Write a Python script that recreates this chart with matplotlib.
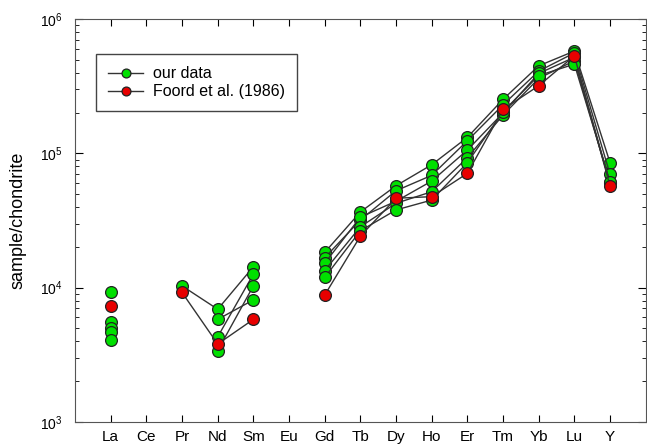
import numpy as np
import matplotlib
matplotlib.use("Agg")
import matplotlib.pyplot as plt

# element order along the x axis
elements = ["La", "Ce", "Pr", "Nd", "Sm", "Eu", "Gd", "Tb", "Dy", "Ho", "Er", "Tm", "Yb", "Lu", "Y"]
nan = np.nan

ours_1 = [9200, nan, 10300, 6900, 14300, nan, 18300, 36600, 57400, 82300, 131600, 252600, 449000, 578000, 85200]
ours_2 = [5500, nan, nan, 5800, 8100, nan, 16700, 31900, 52700, 68600, 124200, 230000, 410000, 560000, 69800]
ours_3 = [5000, nan, nan, 4300, 12600, nan, 15200, 33500, 44000, 62200, 105900, 200000, 394000, 520000, 60000]
ours_4 = [4700, nan, nan, 3400, 10300, nan, 13400, 28400, 42500, 51800, 92800, 193000, 362000, 490000, 59800]
ours_5 = [4100, nan, nan, nan, nan, nan, 11900, 26500, 37900, 44900, 85200, 205000, 380000, 462000, 61000]
foord = [7300, nan, 9200, 3800, 5800, nan, 8800, 24200, 46300, 47600, 71000, 212700, 319000, 533000, 57100]

plt.rcParams['font.family'] = ['Liberation Sans', 'DejaVu Sans']

fig = plt.figure(figsize=(6.47, 4.45), dpi=100)
ax = fig.add_axes([0.116, 0.052, 0.882, 0.905])

x = np.arange(1, len(elements) + 1)
style = dict(color="#333333", lw=1.0, marker="o", markersize=8.5,
             markeredgecolor="#222222", markeredgewidth=0.9)

for i, s in enumerate([ours_1, ours_2, ours_3, ours_4, ours_5]):
    ax.plot(x, s, markerfacecolor="#00e000", label="our data" if i == 0 else None, **style)
ax.plot(x, foord, markerfacecolor="#e80000", label="Foord et al. (1986)", **style)

ax.set_yscale("log")
ax.set_ylim(1e3, 1e6)
ax.set_xlim(0, len(elements) + 1)
ax.set_xticks(x)
ax.set_xticklabels(elements, fontsize=11)
ax.set_ylabel("sample/chondrite", fontsize=13, labelpad=10)

ax.tick_params(axis="both", which="both", direction="in", top=True, right=True)
ax.tick_params(axis="x", length=5, pad=6)
ax.tick_params(axis="y", which="major", length=6, labelsize=10, pad=9)
ax.tick_params(axis="y", which="minor", length=3)
for sp in ax.spines.values():
    sp.set_color("#555555")

leg = ax.legend(loc="upper left", bbox_to_anchor=(0.037, 0.913), borderaxespad=0,
                fontsize=11.5, fancybox=False, framealpha=1, edgecolor="#444444",
                handlelength=2.2, handletextpad=0.6, borderpad=0.75,
                labelspacing=0.2, markerscale=0.75)
leg.get_frame().set_linewidth(1.0)

fig.savefig("out.png", dpi=100)
